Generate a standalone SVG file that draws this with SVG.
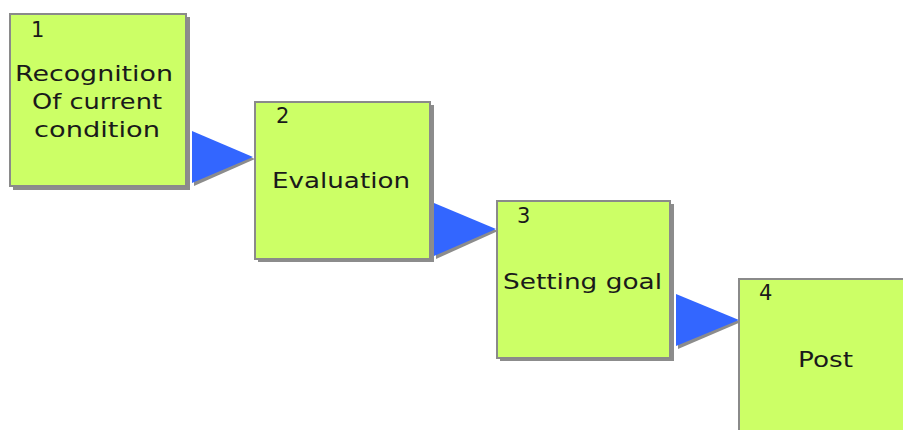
<svg xmlns="http://www.w3.org/2000/svg" width="903" height="430" viewBox="0 0 903 430">
  <defs>
    <style>
      .box { fill: #CCFF66; stroke: #8a8a8a; stroke-width: 2; }
      .shadow { fill: #8c8c8c; }
      .arrow { fill: #3366FF; }
      .arrow-shadow { fill: #8c8c8c; }
      .num { font-family: "DejaVu Sans", "Liberation Sans", sans-serif; font-size: 21px; fill: #1a1a1a; }
      .label { font-family: "DejaVu Sans", "Liberation Sans", sans-serif; font-size: 22px; fill: #1a1a1a; text-anchor: middle; }
    </style>
  </defs>
  <rect width="903" height="430" fill="#ffffff"/>

  <g id="connectors">
    <polygon class="arrow-shadow" points="194,134 255,159 194,186"/>
    <polygon class="arrow" points="192,131 253,157 192,183"/>
    <polygon class="arrow-shadow" points="436,206 498,231 436,259"/>
    <polygon class="arrow" points="434,203 496,229 434,256"/>
    <polygon class="arrow-shadow" points="678,297 741,322 678,349"/>
    <polygon class="arrow" points="676,294 739,320 676,346"/>
  </g>

  <g id="node1">
    <rect class="shadow" x="13" y="17" width="177" height="173"/>
    <rect class="box" x="10" y="14" width="176" height="172"/>
    <text class="num" x="31" y="37">1</text>
    <text class="label" x="94" y="81" textLength="158" lengthAdjust="spacingAndGlyphs">Recognition</text>
    <text class="label" x="97" y="109" textLength="130" lengthAdjust="spacingAndGlyphs">Of current</text>
    <text class="label" x="97" y="137" textLength="126" lengthAdjust="spacingAndGlyphs">condition</text>
  </g>

  <g id="node2">
    <rect class="shadow" x="258" y="105" width="176" height="157"/>
    <rect class="box" x="255" y="102" width="175" height="157"/>
    <text class="num" x="276" y="123">2</text>
    <text class="label" x="341" y="188" textLength="138" lengthAdjust="spacingAndGlyphs">Evaluation</text>
  </g>

  <g id="node3">
    <rect class="shadow" x="500" y="204" width="174" height="157"/>
    <rect class="box" x="497" y="201" width="173" height="157"/>
    <text class="num" x="517" y="223">3</text>
    <text class="label" x="582.5" y="289" textLength="159" lengthAdjust="spacingAndGlyphs">Setting goal</text>
  </g>

  <g id="node4">
    <rect class="shadow" x="742" y="282" width="180" height="160"/>
    <rect class="box" x="739" y="279" width="180" height="160"/>
    <text class="num" x="759" y="300">4</text>
    <text class="label" x="825.5" y="367" textLength="55" lengthAdjust="spacingAndGlyphs">Post</text>
  </g>
</svg>
